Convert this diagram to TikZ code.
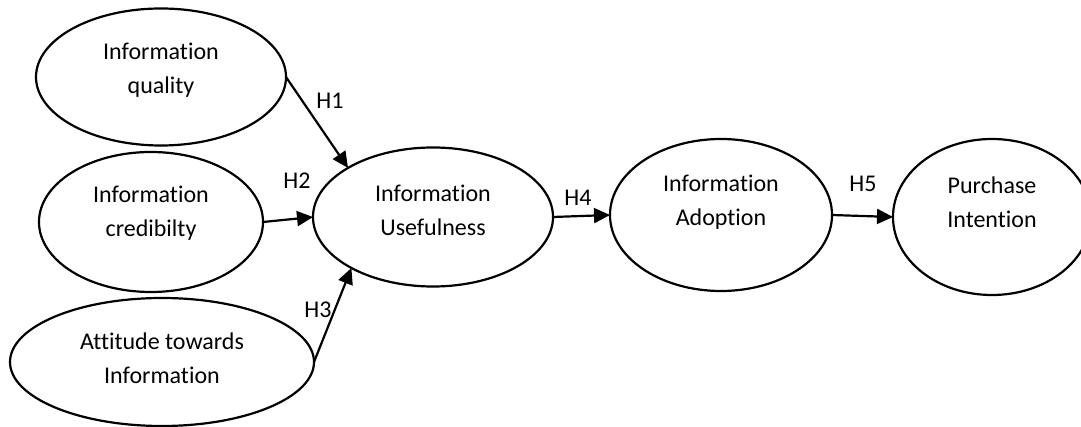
\documentclass[tikz,border=0pt]{standalone}
\usepackage{fontspec}
\setmainfont{Carlito}[Ligatures=NoCommon]
\usetikzlibrary{shapes.geometric,arrows.meta}
\begin{document}
\begin{tikzpicture}[x=1pt,y=-1pt,
  oval/.style={ellipse,draw,line width=2.2pt,inner sep=0pt,outer sep=0pt},
  lbl/.style={font=\fontsize{24}{34}\selectfont,align=center,inner sep=0pt},
  hyp/.style={font=\fontsize{24}{28}\selectfont,inner sep=0pt},
  arr/.style={line width=2.2pt,-{Triangle[length=16pt,width=15pt]}}]
\useasboundingbox (0,0) rectangle (1081,427);
\node[oval,minimum width=250pt,minimum height=137pt] (e1) at (161,77) {};
\node[oval,minimum width=224pt,minimum height=140pt] (e2) at (151,222) {};
\node[oval,minimum width=304pt,minimum height=128pt] (e3) at (162,362) {};
\node[oval,minimum width=240pt,minimum height=139pt] (e4) at (433,217) {};
\node[oval,minimum width=222pt,minimum height=152pt] (e5) at (721,215) {};
\node[oval,minimum width=198pt,minimum height=156pt] (e6) at (992,217) {};
\node[lbl] (t1) at (161,70) {Information\\quality};
\node[lbl] (t2) at (151,213) {Information\\credibilty};
\node[lbl] (t3) at (162,358) {Attitude towards\\Information};
\node[lbl] (t4) at (433,210) {Information\\Usefulness};
\node[lbl] (t5) at (721,202) {Information\\Adoption};
\node[lbl] (t6) at (992,202) {Purchase\\Intention};
\draw[arr] (e1.east) -- (e4.150);
\draw[arr] (e2.east) -- (e4.west);
\draw[arr] (e3.east) -- (e4.212);
\draw[arr] (e4.east) -- (e5.west);
\draw[arr] (e5.east) -- (e6.west);
\node[hyp] (h1) at (330,101) {H1};
\node[hyp] (h2) at (297,181) {H2};
\node[hyp] (h3) at (318,310) {H3};
\node[hyp] (h4) at (578,198) {H4};
\node[hyp] (h5) at (863,184) {H5};
\end{tikzpicture}
\end{document}
